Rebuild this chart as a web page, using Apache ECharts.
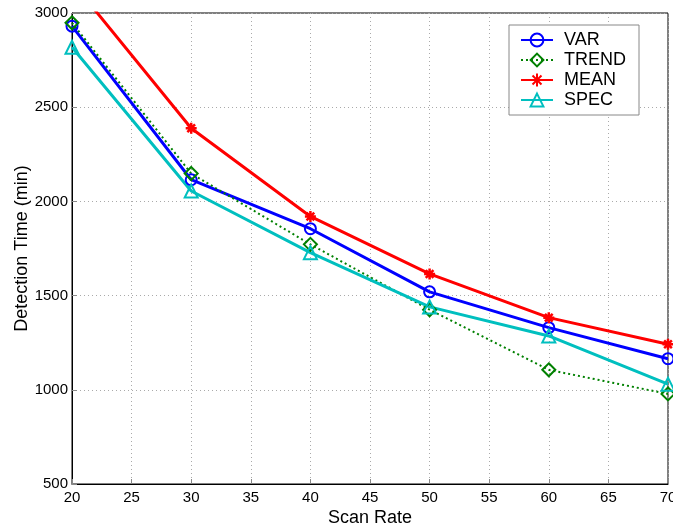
<!DOCTYPE html>
<html>
<head>
<meta charset="utf-8">
<script src="https://cdn.jsdelivr.net/npm/echarts@6/dist/echarts.min.js"></script>
<style>
html, body { margin: 0; padding: 0; background: #fff; }
#chart { width: 673px; height: 527px; }
</style>
</head>
<body>
<div id="chart"></div>
<script>
// scan rates on the x axis
var scanRates = [20, 30, 40, 50, 60, 70];
// detection times (min) per method
var varTimes   = [2930, 2115, 1855, 1520, 1330, 1165];
var trendTimes = [2948, 2148, 1772, 1425, 1106, 978];
var meanTimes  = [3165, 2388, 1920, 1615, 1383, 1242];
var specTimes  = [2818, 2055, 1728, 1440, 1286, 1030];

function pairs(vals) {
    var out = [];
    for (var i = 0; i < scanRates.length; i++) {
        out.push([scanRates[i], vals[i]]);
    }
    return out;
}

var asterisk = 'path://M5,0L5,10M0,5L10,5M1.5,1.5L8.5,8.5M8.5,1.5L1.5,8.5';

var myChart = echarts.init(document.getElementById('chart'));

var option = {
    backgroundColor: '#fff',
    animation: false,
    textStyle: { fontFamily: 'Liberation Sans, Arial, sans-serif' },
    grid: {
        left: 72, right: 5, top: 13, bottom: 43,
        outerBoundsMode: 'none',
        containLabel: false,
        show: true, borderColor: '#000', borderWidth: 1
    },
    legend: {
        right: 34, top: 25,
        orient: 'vertical',
        backgroundColor: '#fff',
        borderColor: '#888',
        borderWidth: 1,
        padding: [6, 13, 6, 11],
        itemGap: 2,
        itemWidth: 32,
        itemHeight: 16,
        textStyle: { fontSize: 18, color: '#000', padding: [0, 0, 0, 6] },
        data: ['VAR', 'TREND', 'MEAN', 'SPEC']
    },
    xAxis: {
        type: 'value',
        min: 20, max: 70, interval: 5,
        name: 'Scan Rate',
        nameLocation: 'middle',
        nameGap: 25,
        nameMoveOverlap: false,
        nameTextStyle: { fontSize: 18, color: '#000' },
        axisLine: { lineStyle: { color: '#000' } },
        axisTick: { inside: true, length: 5, lineStyle: { color: '#888' } },
        axisLabel: { fontSize: 15, color: '#000', margin: 6 },
        splitLine: { show: true, lineStyle: { color: '#aaa', type: [1, 3] } }
    },
    yAxis: {
        type: 'value',
        min: 500, max: 3000, interval: 500,
        name: 'Detection Time (min)',
        nameLocation: 'middle',
        nameGap: 41,
        nameMoveOverlap: false,
        nameTextStyle: { fontSize: 18, color: '#000' },
        axisLine: { show: true, lineStyle: { color: '#000' } },
        axisTick: { show: true, inside: true, length: 5, lineStyle: { color: '#888' } },
        axisLabel: { fontSize: 15, color: '#000', margin: 4, formatter: function (v) { return String(v); } },
        splitLine: { show: true, lineStyle: { color: '#aaa', type: [1, 3] } }
    },
    series: [
        {
            name: 'VAR', type: 'line', data: pairs(varTimes),
            clip: true,
            symbol: 'circle', symbolSize: 11,
            lineStyle: { color: '#0000ff', width: 3 },
            itemStyle: { color: 'rgba(255,255,255,0)', borderColor: '#0000ff', borderWidth: 2 }
        },
        {
            name: 'TREND', type: 'line', data: pairs(trendTimes),
            clip: true,
            symbol: 'diamond', symbolSize: 13,
            lineStyle: { color: '#008000', width: 2, type: [2, 3] },
            itemStyle: { color: 'rgba(255,255,255,0)', borderColor: '#008000', borderWidth: 2 }
        },
        {
            name: 'MEAN', type: 'line', data: pairs(meanTimes),
            clip: true,
            symbol: asterisk, symbolSize: 11,
            lineStyle: { color: '#ff0000', width: 3 },
            itemStyle: { color: '#ff0000', borderColor: '#ff0000', borderWidth: 2.5 }
        },
        {
            name: 'SPEC', type: 'line', data: pairs(specTimes),
            clip: true,
            symbol: 'triangle', symbolSize: 13,
            lineStyle: { color: '#00bfbf', width: 3 },
            itemStyle: { color: 'rgba(255,255,255,0)', borderColor: '#00bfbf', borderWidth: 2 }
        }
    ]
};

myChart.setOption(option);
</script>
</body>
</html>
